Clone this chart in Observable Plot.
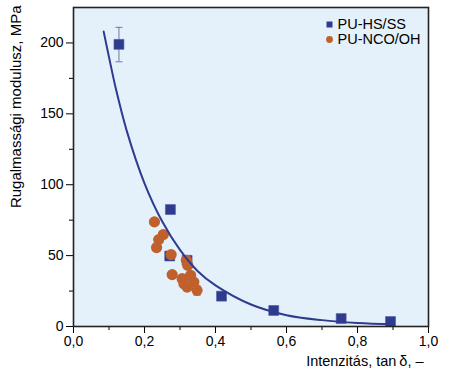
<!DOCTYPE html>
<html>
<head>
<meta charset="utf-8">
<script src="https://cdn.jsdelivr.net/npm/d3@7"></script>
<script src="https://cdn.jsdelivr.net/npm/@observablehq/plot@0.6"></script>
<style>
  html, body { margin: 0; padding: 0; background: #fff; }
  svg { display: block; }
</style>
</head>
<body>
<div id="chart"></div>
<script>
// PU-HS/SS series (squares)
const hsX = [0.128, 0.273, 0.271, 0.320, 0.417, 0.564, 0.754, 0.893];
const hsY = [199, 82.5, 49.7, 46.7, 21.4, 11.3, 5.6, 3.5];
// PU-NCO/OH series (circles)
const ncoX = [0.228, 0.253, 0.240, 0.234, 0.275, 0.318, 0.322, 0.278, 0.306, 0.330, 0.339, 0.320, 0.348, 0.311];
const ncoY = [73.8, 64.9, 61.3, 55.7, 50.7, 46.7, 43.1, 36.6, 33.7, 36.1, 31.3, 27.8, 25.5, 30.2];
// error bars
const errX = [0.128, 0.348];
const errLo = [186.7, 22];
const errHi = [211, 29];
// fitted curve
const fitX = [0.085, 0.1, 0.12, 0.15, 0.2, 0.25, 0.3, 0.35, 0.4, 0.5, 0.6, 0.7, 0.8, 0.9];
const fitY = [208, 190, 167, 138, 101, 74, 54, 39, 29, 15.5, 8, 4.5, 2.5, 1.5];
// ticks
const xTicks = [0, 0.2, 0.4, 0.6, 0.8, 1.0];
const xTickLabels = ["0,0", "0,2", "0,4", "0,6", "0,8", "1,0"];
const xMinor = [0.1, 0.3, 0.5, 0.7, 0.9];
const yTicks = [0, 50, 100, 150, 200];
const yMinor = [25, 75, 125, 175];
const seriesNames = ["PU-HS/SS", "PU-NCO/OH"];
const xLabel = "Intenzitás, tan\u2009δ, –";
const yLabel = "Rugalmassági modulusz, MPa";

const blue = "#2f3b8f";
const orange = "#c0602d";
const bg = "#e4f1fb";

const hs = hsX.map((x, i) => ({x, y: hsY[i]}));
const nco = ncoX.map((x, i) => ({x, y: ncoY[i]}));
const err = errX.map((x, i) => ({x, lo: errLo[i], hi: errHi[i], c: i === 0 ? "#6f7aa8" : "#9a8f88"}));
const fit = fitX.map((x, i) => ({x, y: fitY[i]}));

const cap = {draw(ctx, size) { const w = Math.sqrt(size) / 2; ctx.moveTo(-w, 0); ctx.lineTo(w, 0); }};

const chart = Plot.plot({
  width: 454,
  height: 372,
  marginLeft: 73,
  marginRight: 26,
  marginTop: 7,
  marginBottom: 46,
  style: {fontFamily: "'Liberation Sans', Arial, sans-serif", fontSize: "14px", color: "#000", background: "#fff"},
  x: {domain: [0, 1]},
  y: {domain: [0, 225]},
  marks: [
    Plot.frame({fill: bg}),
    Plot.axisX({ticks: xTicks, tickSize: 7, tickPadding: 3, tickFormat: (d) => xTickLabels[xTicks.indexOf(d)], label: null, fontSize: 14}),
    Plot.axisX({ticks: xMinor, tickSize: 4, tickFormat: () => "", label: null}),
    Plot.axisY({ticks: yTicks, tickSize: 7, tickPadding: 3, label: null, fontSize: 14}),
    Plot.axisY({ticks: yMinor, tickSize: 4, tickFormat: () => "", label: null}),
    Plot.ruleX(err, {x: "x", y1: "lo", y2: "hi", stroke: "c", strokeWidth: 1}),
    Plot.dot(err, {x: "x", y: "lo", symbol: cap, r: 4, stroke: "c", strokeWidth: 1}),
    Plot.dot(err, {x: "x", y: "hi", symbol: cap, r: 4, stroke: "c", strokeWidth: 1}),
    Plot.dot(hs, {x: "x", y: "y", symbol: "square", r: 5.6, fill: blue, stroke: "#4a55a0", strokeWidth: 0.6}),
    Plot.dot(nco, {x: "x", y: "y", symbol: "circle", r: 5.6, fill: orange}),
    Plot.line(fit, {x: "x", y: "y", curve: "catmull-rom", stroke: blue, strokeWidth: 2}),
    Plot.frame({stroke: "#222", strokeWidth: 1.6}),
    // legend
    Plot.dot([seriesNames[0]], {frameAnchor: "top-right", dx: -99, dy: 17, symbol: "square", r: 3.4, fill: blue}),
    Plot.dot([seriesNames[1]], {frameAnchor: "top-right", dx: -99, dy: 32, symbol: "circle", r: 3.4, fill: orange}),
    Plot.text([seriesNames[0]], {frameAnchor: "top-right", dx: -91, dy: 17, text: (d) => d, textAnchor: "start", lineAnchor: "middle", fontSize: 14.5, fill: "#000"}),
    Plot.text([seriesNames[1]], {frameAnchor: "top-right", dx: -91, dy: 32, text: (d) => d, textAnchor: "start", lineAnchor: "middle", fontSize: 14.5, fill: "#000"}),
    // axis titles
    Plot.text([xLabel], {frameAnchor: "bottom-right", dx: -5, dy: 35, text: (d) => d, textAnchor: "end", lineAnchor: "middle", fontSize: 14.5, fill: "#000"}),
    Plot.text([yLabel], {frameAnchor: "top-left", dx: -57.5, dy: -2, rotate: -90, text: (d) => d, textAnchor: "end", lineAnchor: "middle", fontSize: 15, fill: "#000"})
  ]
});
document.getElementById("chart").appendChild(chart);
</script>
</body>
</html>
